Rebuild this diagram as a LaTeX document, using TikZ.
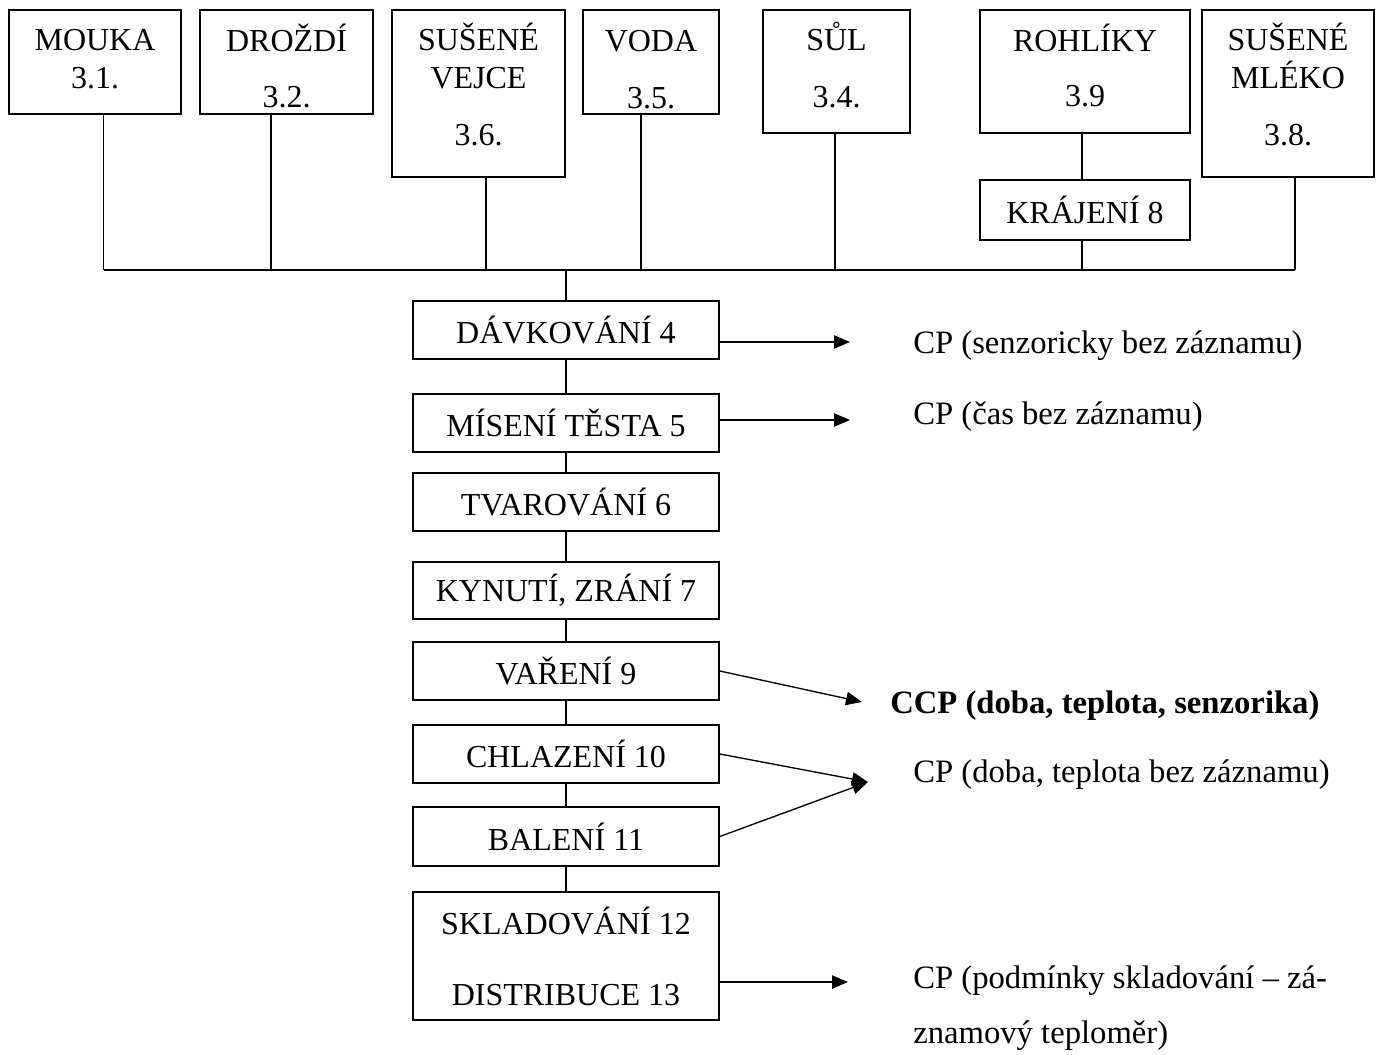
\documentclass[tikz,border=0pt]{standalone}
\usepackage{fontspec}
\setmainfont{Liberation Serif}
\usetikzlibrary{arrows.meta}

\begin{document}
\begin{tikzpicture}[x=0.75pt,y=0.75pt,yscale=-1,
	box/.style={draw, line width=1.2pt, inner sep=0.75pt, align=center, font=\fontsize{24}{28.5}\selectfont},
	krok/.style={box, minimum width=229.5pt},
	lbl/.style={inner sep=0pt, align=center, font=\fontsize{24}{28.5}\selectfont},
	link/.style={line width=1pt},
	arr/.style={line width=1pt, -{Triangle[length=12pt,width=10pt]}},
	note/.style={anchor=west, inner sep=0.75pt, align=left, font=\fontsize{24.5}{29}\selectfont}]
	\useasboundingbox (0,0) rectangle (1383,1055);

	% Text Node
	\node [box, minimum width=129pt, minimum height=78pt] (mouka) at (95,62) {};
	\node [lbl] (mouka-t) at (95,59.5) {MOUKA\\3.1.};
	% Text Node
	\node [box, minimum width=129.75pt, minimum height=78pt] (drozdi) at (286.5,62) {};
	\node [lbl] (drozdi-t) at (286.5,66) {DROŽDÍ\\[14pt]3.2.};
	% Text Node
	\node [box, minimum width=129.75pt, minimum height=125.25pt] (vejce) at (478.5,93.5) {};
	\node [lbl] (vejce-t) at (478.5,84.5) {SUŠENÉ\\VEJCE\\[14pt]3.6.};
	% Text Node
	\node [box, minimum width=102pt, minimum height=78pt] (voda) at (651,62) {};
	\node [lbl] (voda-t) at (651,69.5) {VODA\\[14pt]3.5.};
	% Text Node
	\node [box, minimum width=110.25pt, minimum height=92.25pt] (sul) at (836.5,71.5) {};
	\node [lbl] (sul-t) at (836.5,65) {SŮL\\[14pt]3.4.};
	% Text Node
	\node [box, minimum width=157.5pt, minimum height=92.25pt] (rohliky) at (1085,71.5) {};
	\node [lbl] (rohliky-t) at (1085,65.5) {ROHLÍKY\\[12.75pt]3.9};
	% Text Node
	\node [box, minimum width=157.5pt, minimum height=45pt] (krajeni) at (1085,210) {KRÁJENÍ 8};
	% Text Node
	\node [box, minimum width=129pt, minimum height=125.25pt] (mleko) at (1288,93.5) {};
	\node [lbl] (mleko-t) at (1288,84.5) {SUŠENÉ\\MLÉKO\\[14pt]3.8.};

	% Text Node
	\node [krok, minimum height=43.5pt] (dav) at (566,330) {DÁVKOVÁNÍ 4};
	% Text Node
	\node [krok, minimum height=43.5pt] (misen) at (566,423) {MÍSENÍ TĚSTA 5};
	% Text Node
	\node [krok, minimum height=43.5pt] (tvar) at (566,502) {TVAROVÁNÍ 6};
	% Text Node
	\node [krok, minimum height=42.75pt] (kyn) at (566,590.5) {KYNUTÍ, ZRÁNÍ 7};
	% Text Node
	\node [krok, minimum height=43.5pt] (var) at (566,671) {VAŘENÍ 9};
	% Text Node
	\node [krok, minimum height=43.5pt] (chlaz) at (566,754) {CHLAZENÍ 10};
	% Text Node
	\node [krok, minimum height=44.25pt] (bal) at (566,836.5) {BALENÍ 11};
	% Text Node
	\node [krok, minimum height=96pt] (sklad) at (566,956) {SKLADOVÁNÍ 12\\[24.75pt]DISTRIBUCE 13};

	% Text Node
	\node [note] (cpdav) at (912,346) {CP (senzoricky bez záznamu)};
	% Text Node
	\node [note] (cpmisen) at (912,417) {CP (čas bez záznamu)};
	% Text Node
	\node [note, font=\fontsize{24.5}{29}\selectfont\bfseries] (ccpvar) at (889,706) {CCP (doba, teplota, senzorika)};
	% Text Node
	\node [note] (cpchlaz) at (912,775) {CP (doba, teplota bez záznamu)};
	% Text Node
	\node [note] (cpsklad) at (912,1008) {CP (podmínky skladování – zá-\\[12.5pt]znamový teploměr)};

	% bus taps
	\coordinate (tmouka) at (103.6,270);
	\coordinate (tdrozdi) at (271,270);
	\coordinate (tvejce) at (486,270);
	\coordinate (bus) at (566,270);
	\coordinate (tvoda) at (641,270);
	\coordinate (tsul) at (835,270);
	\coordinate (tkraj) at (1082,270);
	\coordinate (tmleko) at (1295,270);

	% Connection
	\draw [link] (mouka.south -| tmouka) -- (tmouka);
	\draw [link] (drozdi.south -| tdrozdi) -- (tdrozdi);
	\draw [link] (vejce.south -| tvejce) -- (tvejce);
	\draw [link] (voda.south -| tvoda) -- (tvoda);
	\draw [link] (sul.south -| tsul) -- (tsul);
	\draw [link] (rohliky.south -| tkraj) -- (krajeni.north -| tkraj);
	\draw [link] (krajeni.south -| tkraj) -- (tkraj);
	\draw [link] (mleko.south -| tmleko) -- (tmleko);
	\draw [link] (tmouka) -- (tmleko);
	% Connection
	\draw [link] (bus) -- (dav.north);
	\draw [link] (dav) -- (misen);
	\draw [link] (misen) -- (tvar);
	\draw [link] (tvar) -- (kyn);
	\draw [link] (kyn) -- (var);
	\draw [link] (var) -- (chlaz);
	\draw [link] (chlaz) -- (bal);
	\draw [link] (bal) -- (sklad);

	% arrow tips
	\coordinate (pdav) at (850,342);
	\coordinate (pmisen) at (850,420);
	\coordinate (pvar) at (862,702);
	\coordinate (pchlaz) at (868,782);
	\coordinate (psklad) at (848,982);

	% Connection
	\draw [arr] (dav.east |- pdav) -- (pdav);
	\draw [arr] (misen.east |- pmisen) -- (pmisen);
	\draw [arr] (var.east) -- (pvar);
	\draw [arr] (chlaz.east) -- (pchlaz);
	\draw [arr] (bal.east) -- (pchlaz);
	\draw [arr] (sklad.east |- psklad) -- (psklad);

\end{tikzpicture}
\end{document}
